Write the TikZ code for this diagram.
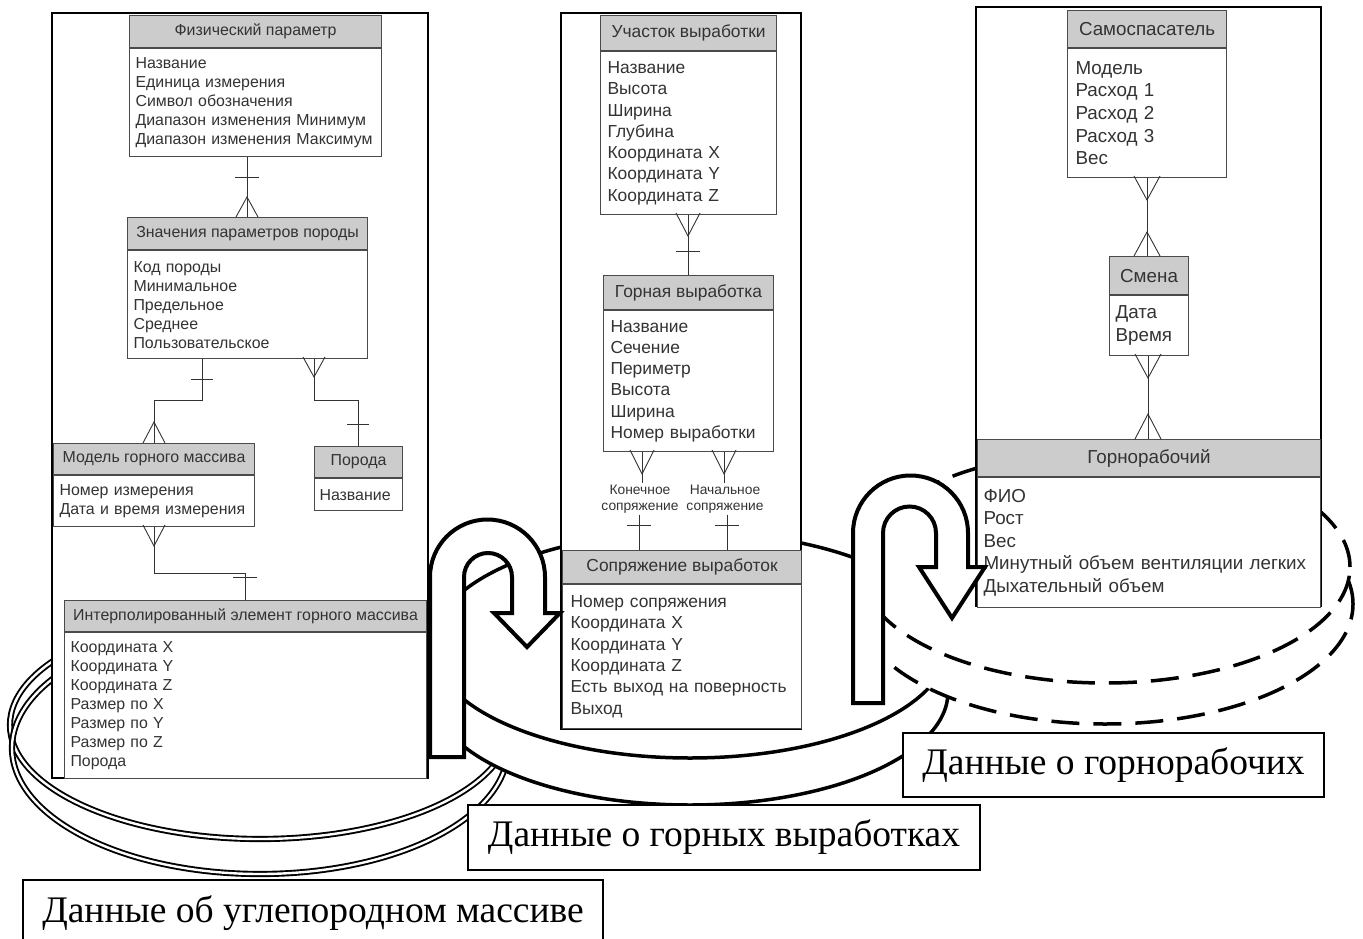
\documentclass[tikz,border=0pt]{standalone}
\usepackage{fontspec}
\setmainfont{Liberation Serif}
\setsansfont{Liberation Sans}
\definecolor{hdrgray}{HTML}{CCCCCC}
\definecolor{ertext}{HTML}{333333}
\definecolor{erline}{HTML}{4A4A4A}
\newcommand\erCrowD[3]{\draw[rel] (#1) ++(-#2,0) -- ++(#2,#3) -- ++(#2,-#3);}
\newcommand\erCrowU[3]{\draw[rel] (#1) ++(-#2,0) -- ++(#2,-#3) -- ++(#2,#3);}
\newcommand\erBar[2]{\draw[rel] (#1) ++(-#2,0) -- ++(2*#2,0);}
\begin{document}
\begin{tikzpicture}[x=1pt,y=-1pt,
  panel/.style={draw=black, line width=1.6pt, fill=white},
  hdr/.style={draw=erline, line width=1.1pt, fill=hdrgray, anchor=north west, inner sep=0pt, text=ertext},
  bdy/.style={draw=erline, line width=1.1pt, fill=white, anchor=north west, inner ysep=0pt, align=left, text=ertext},
  fL/.style={font=\sffamily\fontsize{15.9}{19}\selectfont},
  fM/.style={font=\sffamily\fontsize{17.4}{21.3}\selectfont},
  fR/.style={font=\sffamily\fontsize{18.8}{22.6}\selectfont},
  fS/.style={font=\sffamily\fontsize{13.8}{16.5}\selectfont},
  rel/.style={draw=black!80, line width=0.9pt},
  ring/.style={draw=black, line width=3.5pt, fill=white},
  dring/.style={draw=black, line width=3.5pt, fill=white, dash pattern=on 28pt off 14pt},
  dbl/.style={draw=black, line width=1.9pt, double=white, double distance=2.4pt},
  uarrow/.style={draw=black, line width=4pt, fill=white, line join=miter},
  lbl/.style={draw=black, line width=1.5pt, fill=white, inner sep=0pt, font=\fontsize{37.5}{41}\selectfont}
]
\clip (0,0) rectangle (1363,939);
\fill[white] (0,0) rectangle (1363,939);

% ---------- left double rings ----------
\draw[dbl] (260,725) ellipse[x radius=250pt, y radius=114pt];
\draw[dbl] (260,748) ellipse[x radius=248pt, y radius=126pt];

% ---------- left panel ----------
\draw[panel] (52,13) rectangle (428,778);
\node[hdr, fL, minimum width=252pt, minimum height=32pt] (fp) at (129,15) {Физический параметр};
\node[bdy, fL, minimum height=108pt, text width=240pt, inner xsep=6pt] (fp-b) at (fp.south west)
 {Название\\Единица измерения\\Символ обозначения\\Диапазон изменения Минимум\\Диапазон изменения Максимум};
\node[hdr, fL, minimum width=240pt, minimum height=32pt] (zn) at (127,217) {Значения параметров породы};
\node[bdy, fL, minimum height=108pt, text width=228pt, inner xsep=6pt] (zn-b) at (zn.south west)
 {Код породы\\Минимальное\\Предельное\\Среднее\\Пользовательское};
\node[hdr, fL, minimum width=201pt, minimum height=31pt] (mo) at (53,443) {Модель горного массива};
\node[bdy, fL, minimum height=51pt, text width=189pt, inner xsep=6pt] (mo-b) at (mo.south west)
 {Номер измерения\\Дата и время измерения};
\node[hdr, fL, minimum width=88pt, minimum height=31pt] (po) at (314,446) {Порода};
\node[bdy, fL, minimum height=32pt, text width=78pt, inner xsep=5pt] (po-b) at (po.south west) {Название};
\node[hdr, fL, minimum width=362pt, minimum height=31pt] (ie) at (64,600) {Интерполированный элемент горного массива};
\node[bdy, fL, minimum height=146pt, text width=350pt, inner xsep=6pt] (ie-b) at (ie.south west)
 {Координата X\\Координата Y\\Координата Z\\Размер по X\\Размер по Y\\Размер по Z\\Порода};

% connectors left
\draw[rel] ([xshift=118pt]fp-b.south west) -- ([xshift=120pt]zn.north west);
\erBar{247,177}{12}
\erCrowU{247,217}{11}{20}
\draw[rel] ([xshift=75pt]zn-b.south west) -- ++(0,41) -| ([xshift=101pt]mo.north west);
\erBar{202,379}{11}
\erCrowU{154,443}{11}{21}
\draw[rel] ([xshift=187pt]zn-b.south west) -- ++(0,41) -| ([xshift=44pt]po.north west);
\erCrowD{314,357}{11}{20}
\erBar{358,424}{11}
\draw[rel] ([xshift=101pt]mo-b.south west) -- ++(0,46) -| ([xshift=181pt]ie.north west);
\erCrowD{154,525}{11}{21}
\erBar{245,577}{12}

% ---------- middle ring (hoop) ----------
\draw[ring] (690,692) ellipse[x radius=258pt, y radius=113pt];
\draw[ring] (690,645) ellipse[x radius=258pt, y radius=113pt];

% ---------- middle panel ----------
\draw[panel] (561,13) rectangle (801,729);
\node[hdr, fM, minimum width=176pt, minimum height=35pt] (uc) at (600,15) {Участок выработки};
\node[bdy, fM, minimum height=163pt, text width=162pt, inner xsep=7pt] (uc-b) at (uc.south west)
 {Название\\Высота\\Ширина\\Глубина\\Координата X\\Координата Y\\Координата Z};
\node[hdr, fM, minimum width=170pt, minimum height=34pt] (gv) at (603,275) {Горная выработка};
\node[bdy, fM, minimum height=141pt, text width=156pt, inner xsep=7pt] (gv-b) at (gv.south west)
 {Название\\Сечение\\Периметр\\Высота\\Ширина\\Номер выработки};
\node[hdr, fM, minimum width=239pt, minimum height=33pt] (sv) at (562,550) {Сопряжение выработок};
\node[bdy, fM, minimum height=144pt, text width=223pt, inner xsep=8pt] (sv-b) at (sv.south west)
 {Номер сопряжения\\Координата X\\Координата Y\\Координата Z\\Есть выход на поверность\\Выход};
\node[fS, text=ertext, align=center, inner sep=1pt] (lk) at (640,499) {Конечное\\сопряжение};
\node[fS, text=ertext, align=center, inner sep=1pt] (ln) at (725,499) {Начальное\\сопряжение};

\draw[rel] ([xshift=88pt]uc-b.south west) -- ([xshift=85pt]gv.north west);
\erCrowD{688,213}{12}{23}
\erBar{688,251}{12}
\draw[rel] ([xshift=39pt]gv-b.south west) -- ([xshift=2pt]lk.north);
\draw[rel] ([xshift=-1pt]lk.south) -- ([xshift=77pt]sv.north west);
\erCrowD{642,450}{12}{24}
\erBar{639,525}{12}
\draw[rel] ([xshift=121pt]gv-b.south west) -- ([xshift=-1pt]ln.north);
\draw[rel] ([xshift=2pt]ln.south) -- ([xshift=165pt]sv.north west);
\erCrowD{724,450}{12}{24}
\erBar{727,525}{12}

% ---------- dashed rings ----------
\draw[dring] (1105,604) ellipse[x radius=248pt, y radius=120pt];
\draw[dring] (1105,567) ellipse[x radius=245pt, y radius=116pt];

% ---------- right panel ----------
\draw[panel] (976,7) rectangle (1321,606);
\node[hdr, fR, minimum width=159pt, minimum height=37pt] (sm) at (1067,10) {Самоспасатель};
\node[bdy, fR, minimum height=129pt, text width=143pt, inner xsep=8pt] (sm-b) at (sm.south west)
 {Модель\\Расход 1\\Расход 2\\Расход 3\\Вес};
\node[hdr, fR, minimum width=79pt, minimum height=38pt] (sh) at (1109,256) {Смена};
\node[bdy, fR, minimum height=60pt, text width=67pt, inner xsep=6pt] (sh-b) at (sh.south west)
 {Дата\\Время};
\node[hdr, fR, minimum width=343pt, minimum height=37pt] (gr) at (977,439) {Горнорабочий};
\node[bdy, fR, minimum height=130pt, text width=331pt, inner xsep=6pt] (gr-b) at (gr.south west)
 {ФИО\\Рост\\Вес\\Минутный объем вентиляции легких\\Дыхательный объем};

\draw[rel] ([xshift=80pt]sm-b.south west) -- ([xshift=38pt]sh.north west);
\erCrowD{1147,176}{13}{24}
\erCrowU{1147,256}{13}{24}
\draw[rel] ([xshift=39pt]sh-b.south west) -- ([xshift=171pt]gr.north west);
\erCrowD{1148,354}{13}{24}
\erCrowU{1148,439}{13}{25}

% ---------- U-turn arrows ----------
\draw[uarrow] (430,757) -- (430,577) arc[start angle=180, end angle=0, radius=57.5pt]
  -- (545,613) -- (560,613) -- (527,647) -- (494,613) -- (512,613) -- (512,577)
  arc[start angle=0, end angle=180, radius=24pt] -- (464,757) -- cycle;
\draw[uarrow] (853,703) -- (853,533) arc[start angle=180, end angle=0, radius=57.5pt]
  -- (968,567) -- (985,567) -- (952,618) -- (919,567) -- (936,567) -- (936,533)
  arc[start angle=0, end angle=180, radius=26.5pt] -- (883,703) -- cycle;

% ---------- labels ----------
\node[lbl, minimum width=421pt, minimum height=64pt] (lg) at (1113.5,765) {Данные о горнорабочих};
\node[lbl, minimum width=512pt, minimum height=65pt] (lv) at (724,837.5) {Данные о горных выработках};
\node[lbl, minimum width=580pt, minimum height=66pt] (lm) at (313,913) {Данные об углепородном массиве};
\end{tikzpicture}
\end{document}
